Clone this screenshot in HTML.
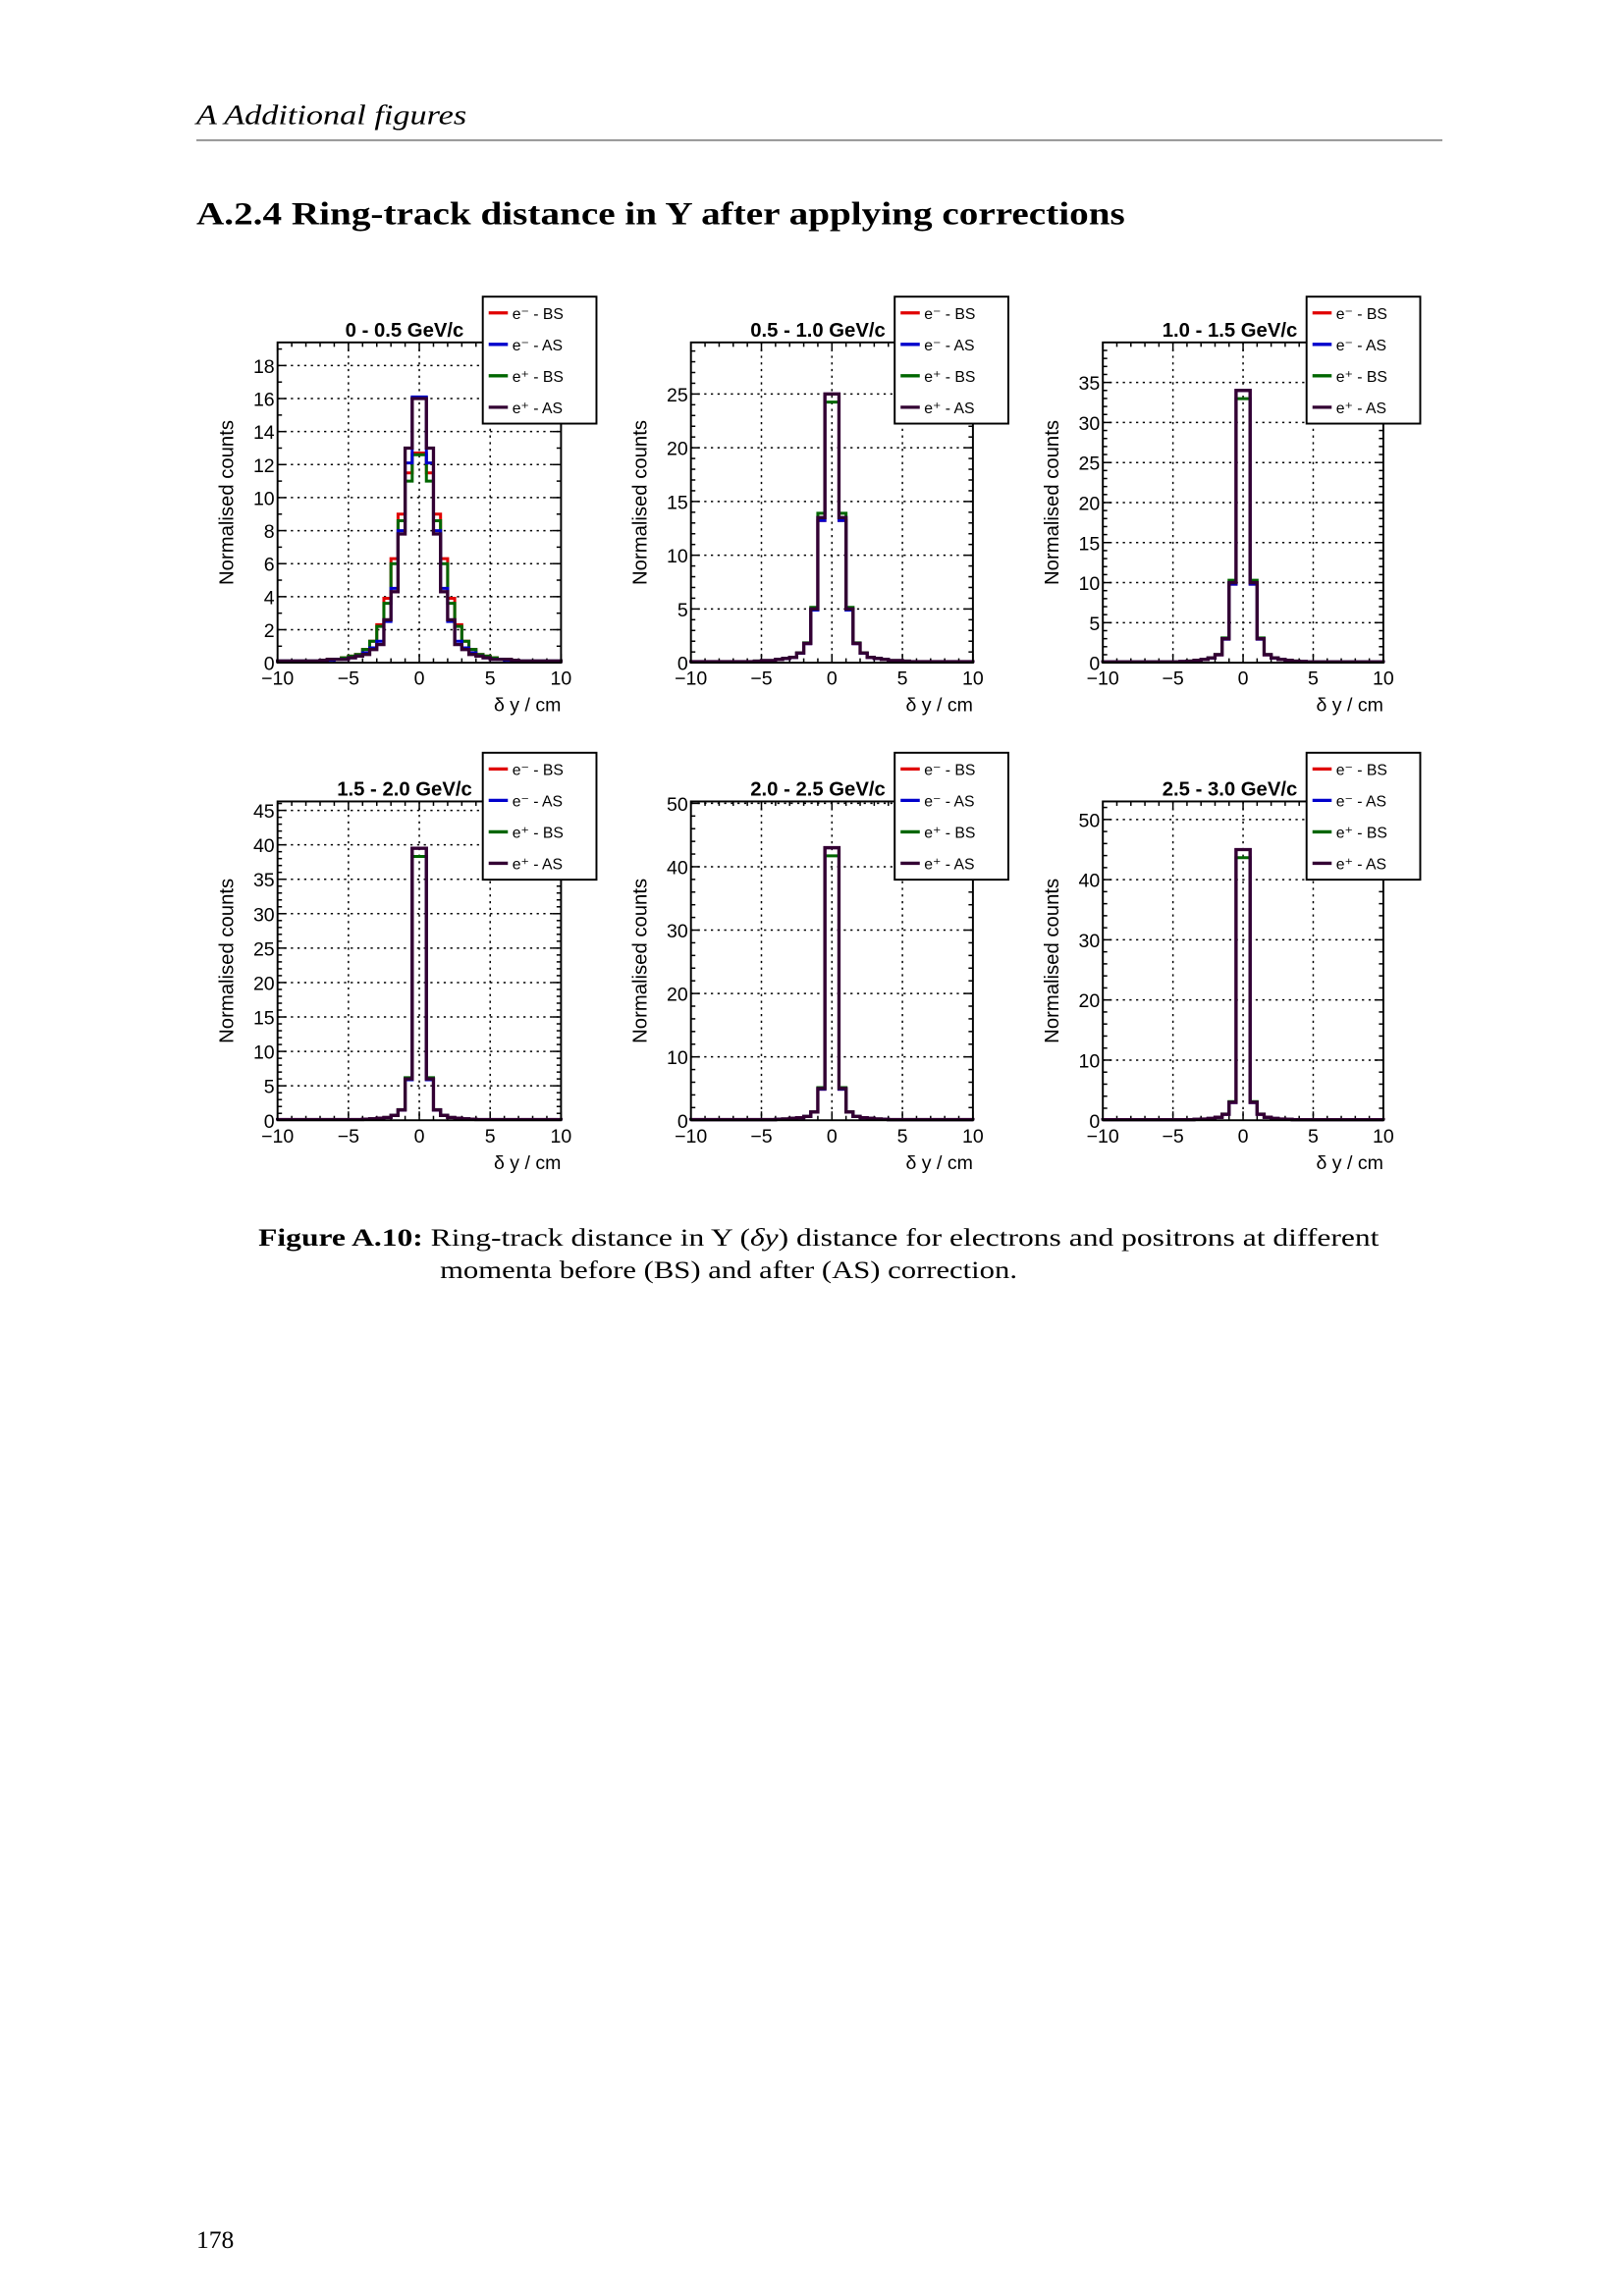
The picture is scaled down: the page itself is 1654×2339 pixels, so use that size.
<!DOCTYPE html>
<html><head><meta charset="utf-8">
<style>
html,body{margin:0;padding:0;background:#fff;}
svg{display:block;}
.ser{font-family:"Liberation Serif",serif;}
.san{font-family:"Liberation Sans",sans-serif;}
</style></head>
<body>
<svg id="s" width="1654" height="2339" viewBox="0 0 1100 1555.6" xmlns="http://www.w3.org/2000/svg">
<rect width="1100" height="1556" fill="#fff"/>
<text x="133" y="84" class="ser" font-size="19" font-style="italic" textLength="183" lengthAdjust="spacingAndGlyphs">A  Additional figures</text>
<line x1="133" y1="95" x2="977" y2="95" stroke="#777" stroke-width="1"/>
<text x="133" y="152" class="ser" font-size="21.5" font-weight="bold" textLength="629" lengthAdjust="spacingAndGlyphs">A.2.4  Ring-track distance in Y after applying corrections</text>

<g id="panels"></g>

<text x="175" y="844" class="ser" font-size="17" textLength="759" lengthAdjust="spacingAndGlyphs"><tspan font-weight="bold">Figure A.10:</tspan> Ring-track distance in Y (<tspan font-style="italic">δy</tspan>) distance for electrons and positrons at different</text>
<text x="298" y="866" class="ser" font-size="17" textLength="391" lengthAdjust="spacingAndGlyphs">momenta before (BS) and after (AS) correction.</text>
<text x="133" y="1523" class="ser" font-size="17">178</text>
</svg>
<script>
const NS="http://www.w3.org/2000/svg";
const G=document.getElementById("panels");
function el(t,a,txt){const e=document.createElementNS(NS,t);for(const k in a)e.setAttribute(k,a[k]);if(txt!==undefined)e.textContent=txt;G.appendChild(e);return e;}
const cols=[[188,380,327],[468,659,606],[747,937,885]];
const rows=[[232,449,201],[543,759,510]];
const titles=["0 - 0.5 GeV/c","0.5 - 1.0 GeV/c","1.0 - 1.5 GeV/c","1.5 - 2.0 GeV/c","2.0 - 2.5 GeV/c","2.5 - 3.0 GeV/c"];
const ymax=[19.4,29.8,40,46.3,50.3,53];
const ystep=[2,5,5,5,10,10];
const prof=[
 {r:[12.7,11.5,9,6.3,3.9,2.3,1.3,0.8,0.5,0.4,0.3,0.2,0.2,0.15,0.1,0.1,0.1,0.1,0.1,0.1],
  b:[16.1,12.1,8,4.5,2.5,1.3,0.9,0.6,0.4,0.3,0.2,0.2,0.15,0.1,0.1,0.1,0.1,0.1,0.1,0.1],
  g:[12.6,11,8.6,6,3.6,2.2,1.3,0.8,0.5,0.4,0.3,0.2,0.2,0.15,0.1,0.1,0.1,0.1,0.1,0.1],
  p:[16,13,7.8,4.3,2.6,1.1,0.8,0.5,0.4,0.3,0.2,0.2,0.2,0.15,0.1,0.1,0.1,0.1,0.1,0.1]},
 {p:[25,13.5,5,1.8,0.9,0.5,0.4,0.3,0.2,0.2,0.15,0.1,0.1,0.1,0.1,0.1,0.1,0.1,0.1,0.1]},
 {p:[34,10,3,1,0.6,0.4,0.3,0.2,0.15,0.1,0.1,0.1,0.1,0.1,0.1,0.1,0.1,0.1,0.1,0.1]},
 {p:[39.5,6,1.5,0.7,0.4,0.3,0.2,0.15,0.1,0.1,0.1,0.1,0.1,0.1,0.1,0.1,0.1,0.1,0.1,0.1]},
 {p:[43,5,1.3,0.6,0.4,0.3,0.2,0.15,0.1,0.1,0.1,0.1,0.1,0.1,0.1,0.1,0.1,0.1,0.1,0.1]},
 {p:[45,3,1,0.5,0.3,0.2,0.15,0.1,0.1,0.1,0.1,0.1,0.1,0.1,0.1,0.1,0.1,0.1,0.1,0.1]}
];
const colors={r:"#e00000",b:"#0000cc",g:"#006600",p:"#330033"};
for(let i=0;i<6;i++){
 const [x0,x1,lx]=cols[i%3],[y0,y1,ly]=rows[Math.floor(i/3)];
 const X=v=>x0+(v+10)/20*(x1-x0), Y=v=>y1-v/ymax[i]*(y1-y0);
 for(const v of [-5,0,5]) el("line",{x1:X(v),x2:X(v),y1:y0,y2:y1,stroke:"#000","stroke-width":1,"stroke-dasharray":"1.5,3"});
 for(let v=ystep[i];v<ymax[i];v+=ystep[i]) el("line",{x1:x0,x2:x1,y1:Y(v),y2:Y(v),stroke:"#000","stroke-width":1,"stroke-dasharray":"1.5,3"});
 for(let v=-10;v<=10;v+=1){const L=v%5==0?6:3;el("line",{x1:X(v),x2:X(v),y1:y1,y2:y1-L,stroke:"#000","stroke-width":1});el("line",{x1:X(v),x2:X(v),y1:y0,y2:y0+L,stroke:"#000","stroke-width":1});}
 const mstep=ystep[i]/ (ystep[i]==2?2:5);
 for(let v=0;v<ymax[i];v+=mstep){const maj=Math.abs(v/ystep[i]-Math.round(v/ystep[i]))<1e-6;const L=maj?6:3;el("line",{x1:x0,x2:x0+L,y1:Y(v),y2:Y(v),stroke:"#000","stroke-width":1});el("line",{x1:x1,x2:x1-L,y1:Y(v),y2:Y(v),stroke:"#000","stroke-width":1});}
 const P=prof[i];
 ["r","g","b","p"].forEach((k,ki)=>{
  let h=P[k]||P.p.map((v,j)=>v*(j==0?(ki==1?0.97:1):(ki%2?1.03:0.98)));
  const vals=[];for(let j=19;j>=0;j--)vals.push(h[j]);for(let j=0;j<20;j++)vals.push(h[j]);
  let d="M"+X(-10)+","+Y(0);
  for(let j=0;j<40;j++){const a=-10+j*0.5;d+=" L"+X(a)+","+Y(vals[j])+" L"+X(a+0.5)+","+Y(vals[j]);}
  d+=" L"+X(10)+","+Y(0);
  el("path",{d:d,fill:"none",stroke:colors[k],"stroke-width":k=="p"?2.2:2});
 });
 el("rect",{x:x0,y:y0,width:x1-x0,height:y1-y0,fill:"none",stroke:"#000","stroke-width":1.3});
 for(const v of [-10,-5,0,5,10]) el("text",{x:X(v),y:y1+15,"text-anchor":"middle","font-size":13,class:"san"},v<0?"\u2212"+(-v):String(v));
 for(let v=0;v<ymax[i];v+=ystep[i]) el("text",{x:x0-2,y:Y(v)+5,"text-anchor":"end","font-size":13,class:"san"},String(v));
 el("text",{x:x1,y:y1+33,"text-anchor":"end","font-size":13,class:"san"},"\u03b4 y / cm");
 const cy=(y0+y1)/2, cx=x0-30;
 el("text",{x:cx,y:cy,"text-anchor":"middle","font-size":13.5,class:"san",transform:"rotate(-90 "+cx+" "+cy+")"},"Normalised counts");
 el("text",{x:x0+86,y:y0-4,"text-anchor":"middle","font-size":13.5,"font-weight":"bold",class:"san"},titles[i]);
 el("rect",{x:lx,y:ly,width:77,height:86,fill:"#fff",stroke:"#000","stroke-width":1.3});
 const labs=["e\u207b - BS","e\u207b - AS","e\u207a -  BS","e\u207a - AS"],lc=["r","b","g","p"];
 for(let j=0;j<4;j++){const yy=ly+11+j*21.3;
  el("line",{x1:lx+4,x2:lx+17,y1:yy,y2:yy,stroke:colors[lc[j]],"stroke-width":2.2});
  el("text",{x:lx+20,y:yy+4,"font-size":10.5,class:"san"},labs[j]);}
}
</script>
</body></html>
